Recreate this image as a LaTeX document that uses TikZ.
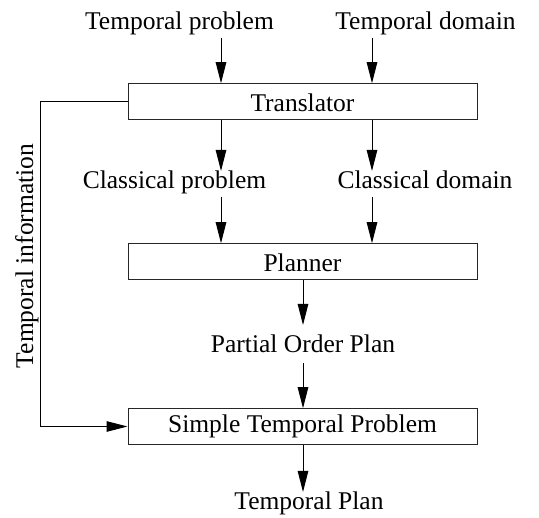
\documentclass[tikz,border=0pt]{standalone}
\usepackage{fontspec}
\setmainfont{Liberation Serif}
\usetikzlibrary{arrows.meta}
\begin{document}
\begin{tikzpicture}[x=1pt,y=-1pt,
  lbl/.style={font=\fontsize{25.5}{30}\selectfont, inner sep=0pt, anchor=base},
  boxA/.style={draw=black!85, line width=1pt, minimum width=349pt, minimum height=35.5pt, inner sep=0pt,
    text height=21pt, text depth=0pt, font=\fontsize{25.5}{30}\selectfont},
  boxB/.style={boxA, text height=13pt},
  arr/.style={line width=1pt, -{Triangle[length=21pt,width=10.5pt]}},
  ln/.style={line width=1pt}]
\useasboundingbox (0,0) rectangle (539,518);
% boxes
\node[boxA] (trans) at (302.5,101.5) {Translator};
\node[boxA] (plan) at (302.5,261.5) {Planner};
\node[boxB] (stp) at (302.5,426.5) {Simple Temporal Problem};
% labels
\node[lbl] (tprob) at (179.5,30) {Temporal problem};
\node[lbl] (tdom) at (425.5,30) {Temporal domain};
\node[lbl] (cprob) at (174.5,189) {Classical problem};
\node[lbl] (cdom) at (425,189) {Classical domain};
\node[lbl] (pop) at (303,353) {Partial Order Plan};
\node[lbl] (tplan) at (309,510) {Temporal Plan};
\node[lbl, rotate=90, anchor=base] (tinfo) at (33,256) {Temporal information};
% connector ends
\coordinate (s1) at (221,38);
\coordinate (s2) at (372,38);
\coordinate (e1) at (221,171);
\coordinate (e2) at (372,171);
\coordinate (s3) at (221,197);
\coordinate (s4) at (372,197);
\coordinate (e5) at (303,325);
\coordinate (s6) at (303,363);
\coordinate (e7) at (303,492);
\coordinate (fb) at (40.5,0);
% arrows
\draw[arr] (s1) -- (s1 |- trans.north);
\draw[arr] (s2) -- (s2 |- trans.north);
\draw[arr] (e1 |- trans.south) -- (e1);
\draw[arr] (e2 |- trans.south) -- (e2);
\draw[arr] (s3) -- (s3 |- plan.north);
\draw[arr] (s4) -- (s4 |- plan.north);
\draw[arr] (e5 |- plan.south) -- (e5);
\draw[arr] (s6) -- (s6 |- stp.north);
\draw[arr] (e7 |- stp.south) -- (e7);
\draw[arr] (trans.west) -- (fb |- trans.west) -- (fb |- stp.west) -- (stp.west);
\end{tikzpicture}
\end{document}
